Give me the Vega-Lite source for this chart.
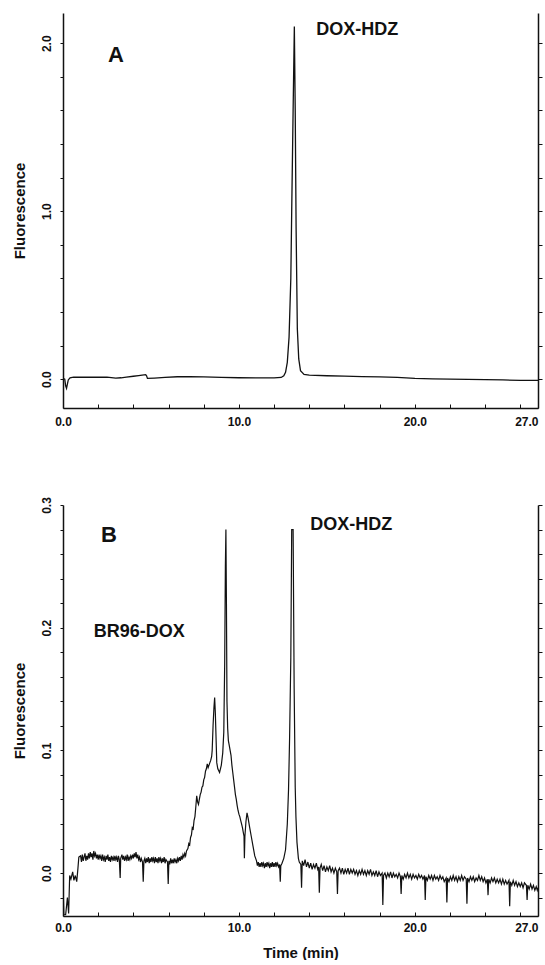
{
  "$schema": "https://vega.github.io/schema/vega-lite/v6.json",
  "background": "white",
  "padding": {"left": 11, "top": 13, "right": 0, "bottom": 0},
  "datasets": {
    "A": [
      {"t":0,"v":0.005},{"t":0.1,"v":0.0},{"t":0.15,"v":-0.04},{"t":0.2,"v":-0.055},{"t":0.25,"v":-0.03},{"t":0.3,"v":-0.005},{"t":0.4,"v":0.008},{"t":0.6,"v":0.012},{"t":1.0,"v":0.011},{"t":1.5,"v":0.012},{"t":2.0,"v":0.011},{"t":2.5,"v":0.012},{"t":3.0,"v":0.006},{"t":3.3,"v":0.008},{"t":3.6,"v":0.012},{"t":4.0,"v":0.017},{"t":4.3,"v":0.021},{"t":4.5,"v":0.024},{"t":4.7,"v":0.027},{"t":4.75,"v":0.02},{"t":4.8,"v":0.004},{"t":5.2,"v":0.006},{"t":5.8,"v":0.01},{"t":6.5,"v":0.014},{"t":7.2,"v":0.015},{"t":8.0,"v":0.013},{"t":9.0,"v":0.01},{"t":10.0,"v":0.008},{"t":11.0,"v":0.007},{"t":12.0,"v":0.007},{"t":12.4,"v":0.01},{"t":12.55,"v":0.02},{"t":12.65,"v":0.04},{"t":12.75,"v":0.1},{"t":12.85,"v":0.25},{"t":12.95,"v":0.6},{"t":13.0,"v":1.0},{"t":13.08,"v":1.6},{"t":13.15,"v":2.1},{"t":13.2,"v":1.6},{"t":13.25,"v":0.9},{"t":13.32,"v":0.3},{"t":13.4,"v":0.12},{"t":13.5,"v":0.05},{"t":13.7,"v":0.028},{"t":14.0,"v":0.024},{"t":15.0,"v":0.02},{"t":16.0,"v":0.018},{"t":17.0,"v":0.015},{"t":18.0,"v":0.013},{"t":19.0,"v":0.01},{"t":20.0,"v":0.004},{"t":21.0,"v":0.001},{"t":22.0,"v":0.0},{"t":23.0,"v":-0.002},{"t":24.0,"v":-0.003},{"t":25.0,"v":-0.005},{"t":26.0,"v":-0.007},{"t":27.0,"v":-0.008}
    ],
    "B": [
      {"t":0.0,"v":-0.01},{"t":0.05,"v":-0.034},{"t":0.15,"v":-0.034},{"t":0.25,"v":-0.02},{"t":0.32,"v":-0.033},{"t":0.38,"v":-0.002},{"t":0.45,"v":-0.005},{"t":0.55,"v":0.001},{"t":0.62,"v":-0.006},{"t":0.7,"v":-0.002},{"t":0.78,"v":-0.007},{"t":0.85,"v":0.004},{"t":0.9,"v":0.013},
      {"t":1.0,"v":0.014},{"t":1.05,"v":0.009},{"t":1.1,"v":0.015},{"t":1.15,"v":0.010},{"t":1.2,"v":0.013},{"t":1.25,"v":0.016},{"t":1.3,"v":0.010},{"t":1.35,"v":0.014},{"t":1.4,"v":0.011},{"t":1.45,"v":0.016},{"t":1.5,"v":0.012},{"t":1.55,"v":0.017},{"t":1.6,"v":0.013},{"t":1.65,"v":0.016},{"t":1.7,"v":0.011},{"t":1.75,"v":0.018},{"t":1.8,"v":0.014},{"t":1.85,"v":0.016},{"t":1.9,"v":0.012},{"t":1.95,"v":0.015},{"t":2.0,"v":0.011},{"t":2.05,"v":0.015},{"t":2.1,"v":0.012},{"t":2.15,"v":0.014},{"t":2.2,"v":0.010},{"t":2.25,"v":0.015},{"t":2.3,"v":0.011},{"t":2.35,"v":0.013},{"t":2.4,"v":0.009},{"t":2.45,"v":0.014},{"t":2.5,"v":0.011},{"t":2.55,"v":0.015},{"t":2.6,"v":0.010},{"t":2.65,"v":0.013},{"t":2.7,"v":0.009},{"t":2.75,"v":0.014},{"t":2.8,"v":0.011},{"t":2.85,"v":0.013},{"t":2.9,"v":0.010},{"t":2.95,"v":0.014},{"t":3.0,"v":0.011},{"t":3.05,"v":0.013},{"t":3.1,"v":0.009},{"t":3.15,"v":0.014},{"t":3.2,"v":0.011},{"t":3.25,"v":-0.004},{"t":3.28,"v":0.012},{"t":3.35,"v":0.015},{"t":3.4,"v":0.011},{"t":3.45,"v":0.014},{"t":3.5,"v":0.010},{"t":3.55,"v":0.013},{"t":3.6,"v":0.011},{"t":3.65,"v":0.015},{"t":3.7,"v":0.010},{"t":3.75,"v":0.013},{"t":3.8,"v":0.011},{"t":3.85,"v":0.014},{"t":3.9,"v":0.012},{"t":3.95,"v":0.015},{"t":4.0,"v":0.012},{"t":4.05,"v":0.016},{"t":4.1,"v":0.013},{"t":4.15,"v":0.017},{"t":4.2,"v":0.012},{"t":4.25,"v":0.015},{"t":4.3,"v":0.011},{"t":4.35,"v":0.013},{"t":4.4,"v":0.009},{"t":4.45,"v":0.012},{"t":4.52,"v":0.009},{"t":4.56,"v":-0.007},{"t":4.6,"v":0.010},{"t":4.65,"v":0.012},{"t":4.7,"v":0.008},{"t":4.75,"v":0.012},{"t":4.8,"v":0.009},{"t":4.85,"v":0.013},{"t":4.9,"v":0.008},{"t":4.95,"v":0.012},{"t":5.0,"v":0.009},{"t":5.05,"v":0.013},{"t":5.1,"v":0.010},{"t":5.15,"v":0.012},{"t":5.2,"v":0.008},{"t":5.25,"v":0.013},{"t":5.3,"v":0.009},{"t":5.35,"v":0.012},{"t":5.4,"v":0.008},{"t":5.45,"v":0.013},{"t":5.5,"v":0.010},{"t":5.55,"v":0.012},{"t":5.6,"v":0.008},{"t":5.65,"v":0.012},{"t":5.7,"v":0.009},{"t":5.75,"v":0.013},{"t":5.8,"v":0.008},{"t":5.85,"v":0.011},{"t":5.94,"v":0.009},{"t":5.98,"v":-0.009},{"t":6.02,"v":0.010},{"t":6.07,"v":0.007},{"t":6.12,"v":0.012},{"t":6.17,"v":0.008},{"t":6.22,"v":0.011},{"t":6.27,"v":0.008},{"t":6.32,"v":0.012},{"t":6.37,"v":0.009},{"t":6.42,"v":0.011},{"t":6.47,"v":0.008},{"t":6.52,"v":0.012},{"t":6.57,"v":0.010},{"t":6.62,"v":0.013},{"t":6.67,"v":0.010},{"t":6.72,"v":0.014},{"t":6.77,"v":0.011},{"t":6.82,"v":0.015},{"t":6.87,"v":0.013},{"t":6.92,"v":0.016},{"t":6.97,"v":0.014},{"t":7.02,"v":0.018},
      {"t":7.1,"v":0.02},{"t":7.15,"v":0.024},{"t":7.2,"v":0.023},{"t":7.25,"v":0.029},{"t":7.3,"v":0.031},{"t":7.35,"v":0.037},{"t":7.4,"v":0.036},{"t":7.45,"v":0.043},{"t":7.5,"v":0.046},{"t":7.55,"v":0.054},{"t":7.6,"v":0.063},{"t":7.65,"v":0.058},{"t":7.7,"v":0.056},{"t":7.75,"v":0.06},{"t":7.8,"v":0.064},{"t":7.85,"v":0.066},{"t":7.9,"v":0.07},{"t":7.95,"v":0.071},{"t":8.0,"v":0.076},{"t":8.05,"v":0.078},{"t":8.1,"v":0.083},{"t":8.15,"v":0.085},{"t":8.2,"v":0.089},{"t":8.25,"v":0.086},{"t":8.3,"v":0.088},{"t":8.35,"v":0.09},{"t":8.4,"v":0.092},{"t":8.45,"v":0.095},{"t":8.48,"v":0.1},{"t":8.53,"v":0.12},{"t":8.58,"v":0.135},{"t":8.62,"v":0.143},{"t":8.66,"v":0.13},{"t":8.7,"v":0.11},{"t":8.74,"v":0.09},{"t":8.8,"v":0.085},{"t":8.9,"v":0.082},{"t":9.0,"v":0.088},{"t":9.08,"v":0.098},{"t":9.14,"v":0.115},{"t":9.19,"v":0.17},{"t":9.23,"v":0.25},{"t":9.26,"v":0.28},{"t":9.29,"v":0.22},{"t":9.32,"v":0.14},{"t":9.36,"v":0.118},{"t":9.4,"v":0.108},{"t":9.45,"v":0.104},{"t":9.5,"v":0.1},{"t":9.55,"v":0.096},{"t":9.6,"v":0.088},{"t":9.65,"v":0.082},{"t":9.7,"v":0.076},{"t":9.75,"v":0.07},{"t":9.8,"v":0.064},{"t":9.85,"v":0.06},{"t":9.9,"v":0.055},{"t":9.95,"v":0.051},{"t":10.0,"v":0.048},{"t":10.05,"v":0.046},{"t":10.1,"v":0.043},{"t":10.15,"v":0.04},{"t":10.2,"v":0.037},{"t":10.25,"v":0.033},{"t":10.29,"v":0.03},{"t":10.31,"v":0.012},{"t":10.34,"v":0.03},{"t":10.4,"v":0.042},{"t":10.46,"v":0.049},{"t":10.52,"v":0.045},{"t":10.6,"v":0.038},{"t":10.7,"v":0.03},{"t":10.8,"v":0.022},{"t":10.9,"v":0.014},
      {"t":11.0,"v":0.010},{"t":11.05,"v":0.006},{"t":11.1,"v":0.009},{"t":11.15,"v":0.005},{"t":11.2,"v":0.008},{"t":11.25,"v":0.005},{"t":11.3,"v":0.009},{"t":11.35,"v":0.006},{"t":11.4,"v":0.008},{"t":11.45,"v":0.004},{"t":11.5,"v":0.008},{"t":11.55,"v":0.005},{"t":11.6,"v":0.009},{"t":11.65,"v":0.006},{"t":11.7,"v":0.008},{"t":11.75,"v":0.004},{"t":11.8,"v":0.008},{"t":11.85,"v":0.005},{"t":11.9,"v":0.009},{"t":11.95,"v":0.005},{"t":12.0,"v":0.008},{"t":12.05,"v":0.005},{"t":12.1,"v":0.009},{"t":12.15,"v":0.006},{"t":12.2,"v":0.008},{"t":12.25,"v":0.005},{"t":12.31,"v":0.007},{"t":12.35,"v":-0.007},{"t":12.38,"v":0.006},{"t":12.45,"v":0.008},{"t":12.55,"v":0.012},{"t":12.65,"v":0.019},{"t":12.75,"v":0.04},{"t":12.82,"v":0.068},{"t":12.88,"v":0.11},{"t":12.95,"v":0.176},{"t":13.0,"v":0.28},{"t":13.08,"v":0.28},{"t":13.14,"v":0.15},{"t":13.2,"v":0.07},{"t":13.24,"v":0.046},{"t":13.3,"v":0.025},{"t":13.38,"v":0.012},{"t":13.43,"v":0.009},{"t":13.52,"v":0.007},{"t":13.56,"v":-0.012},
      {"t":13.6,"v":0.010},{"t":13.68,"v":0.006},{"t":13.76,"v":0.011},{"t":13.84,"v":0.005},{"t":13.92,"v":0.009},{"t":14.0,"v":0.004},{"t":14.08,"v":0.008},{"t":14.16,"v":0.003},{"t":14.24,"v":0.007},{"t":14.32,"v":0.004},{"t":14.4,"v":0.008},{"t":14.48,"v":0.003},{"t":14.53,"v":0.005},{"t":14.57,"v":-0.016},{"t":14.61,"v":0.004},{"t":14.68,"v":0.007},{"t":14.76,"v":0.002},{"t":14.84,"v":0.006},{"t":14.92,"v":0.001},{"t":15.0,"v":0.005},{"t":15.08,"v":0.002},{"t":15.16,"v":0.006},{"t":15.24,"v":0.001},{"t":15.32,"v":0.004},{"t":15.4,"v":0.0},{"t":15.48,"v":0.004},{"t":15.56,"v":0.001},{"t":15.6,"v":-0.017},{"t":15.64,"v":0.002},{"t":15.72,"v":0.004},{"t":15.8,"v":0.0},{"t":15.88,"v":0.004},{"t":15.96,"v":-0.001},{"t":16.04,"v":0.003},{"t":16.12,"v":0.0},{"t":16.2,"v":0.004},{"t":16.28,"v":-0.001},{"t":16.36,"v":0.003},{"t":16.44,"v":0.0},{"t":16.52,"v":0.003},{"t":16.6,"v":-0.001},{"t":16.68,"v":0.002},{"t":16.76,"v":-0.002},{"t":16.84,"v":0.002},{"t":16.92,"v":-0.001},{"t":17.0,"v":0.003},{"t":17.08,"v":-0.001},{"t":17.16,"v":0.002},{"t":17.24,"v":-0.002},{"t":17.32,"v":0.002},{"t":17.4,"v":-0.001},{"t":17.48,"v":0.003},{"t":17.56,"v":-0.002},{"t":17.64,"v":0.001},{"t":17.72,"v":-0.002},{"t":17.8,"v":0.002},{"t":17.88,"v":-0.003},{"t":17.96,"v":0.001},{"t":18.04,"v":-0.002},{"t":18.14,"v":0.0},{"t":18.18,"v":-0.026},{"t":18.22,"v":-0.002},{"t":18.3,"v":0.0},{"t":18.38,"v":-0.004},{"t":18.46,"v":0.0},{"t":18.54,"v":-0.003},{"t":18.62,"v":0.001},{"t":18.7,"v":-0.004},{"t":18.78,"v":0.0},{"t":18.86,"v":-0.003},{"t":18.94,"v":-0.001},{"t":19.02,"v":-0.004},{"t":19.1,"v":0.0},{"t":19.18,"v":-0.003},{"t":19.22,"v":-0.017},{"t":19.26,"v":-0.002},{"t":19.34,"v":-0.005},{"t":19.42,"v":-0.001},{"t":19.5,"v":-0.004},{"t":19.58,"v":0.0},{"t":19.66,"v":-0.004},{"t":19.74,"v":-0.001},{"t":19.82,"v":-0.005},{"t":19.9,"v":-0.001},{"t":19.98,"v":-0.004},{"t":20.06,"v":-0.002},{"t":20.14,"v":-0.005},{"t":20.22,"v":-0.001},{"t":20.3,"v":-0.004},{"t":20.38,"v":-0.002},{"t":20.46,"v":-0.005},{"t":20.55,"v":-0.002},{"t":20.59,"v":-0.022},{"t":20.63,"v":-0.003},{"t":20.71,"v":-0.006},{"t":20.79,"v":-0.002},{"t":20.87,"v":-0.005},{"t":20.95,"v":-0.002},{"t":21.03,"v":-0.006},{"t":21.11,"v":-0.002},{"t":21.19,"v":-0.005},{"t":21.27,"v":-0.003},{"t":21.35,"v":-0.006},{"t":21.43,"v":-0.002},{"t":21.51,"v":-0.005},{"t":21.59,"v":-0.003},{"t":21.67,"v":-0.007},{"t":21.78,"v":-0.004},{"t":21.82,"v":-0.024},{"t":21.86,"v":-0.004},{"t":21.94,"v":-0.007},{"t":22.02,"v":-0.003},{"t":22.1,"v":-0.006},{"t":22.18,"v":-0.002},{"t":22.26,"v":-0.006},{"t":22.34,"v":-0.003},{"t":22.42,"v":-0.007},{"t":22.5,"v":-0.003},{"t":22.58,"v":-0.006},{"t":22.66,"v":-0.002},{"t":22.74,"v":-0.006},{"t":22.82,"v":-0.003},{"t":22.92,"v":-0.005},{"t":22.96,"v":-0.025},{"t":23.0,"v":-0.004},{"t":23.08,"v":-0.007},{"t":23.16,"v":-0.003},{"t":23.24,"v":-0.006},{"t":23.32,"v":-0.003},{"t":23.4,"v":-0.007},{"t":23.48,"v":-0.004},{"t":23.56,"v":-0.006},{"t":23.64,"v":-0.002},{"t":23.72,"v":-0.006},{"t":23.8,"v":-0.003},{"t":23.88,"v":-0.007},{"t":23.96,"v":-0.004},{"t":24.04,"v":-0.008},{"t":24.12,"v":-0.005},{"t":24.16,"v":-0.018},{"t":24.2,"v":-0.005},{"t":24.28,"v":-0.008},{"t":24.36,"v":-0.004},{"t":24.44,"v":-0.007},{"t":24.52,"v":-0.004},{"t":24.6,"v":-0.008},{"t":24.68,"v":-0.005},{"t":24.76,"v":-0.008},{"t":24.84,"v":-0.005},{"t":24.92,"v":-0.009},{"t":25.0,"v":-0.005},{"t":25.08,"v":-0.009},{"t":25.16,"v":-0.006},{"t":25.24,"v":-0.009},{"t":25.35,"v":-0.006},{"t":25.39,"v":-0.027},{"t":25.43,"v":-0.007},{"t":25.51,"v":-0.01},{"t":25.59,"v":-0.006},{"t":25.67,"v":-0.01},{"t":25.75,"v":-0.007},{"t":25.83,"v":-0.011},{"t":25.91,"v":-0.008},{"t":25.99,"v":-0.011},{"t":26.07,"v":-0.008},{"t":26.15,"v":-0.012},{"t":26.23,"v":-0.008},{"t":26.34,"v":-0.01},{"t":26.38,"v":-0.022},{"t":26.42,"v":-0.01},{"t":26.5,"v":-0.013},{"t":26.58,"v":-0.009},{"t":26.66,"v":-0.013},{"t":26.74,"v":-0.01},{"t":26.82,"v":-0.014},{"t":26.9,"v":-0.011},{"t":26.96,"v":-0.014},{"t":27.0,"v":-0.012}
    ],
    "letterA": [{"t": 2.56, "v": 1.89, "label": "A"}],
    "namesA": [{"t": 14.4, "v": 2.05, "label": "DOX-HDZ"}],
    "letterB": [{"t": 2.16, "v": 0.2698, "label": "B"}],
    "namesB": [{"t": 1.75, "v": 0.1924, "label": "BR96-DOX"}, {"t": 14.05, "v": 0.2796, "label": "DOX-HDZ"}]
  },
  "spacing": 97,
  "bounds": "flush",
  "vconcat": [
    {
      "width": 475,
      "height": 395,
      "layer": [
        {
          "data": {"name": "A"},
          "mark": {"type": "line", "color": "#111111", "strokeWidth": 1.3, "clip": true},
          "encoding": {
            "x": {"field": "t", "type": "quantitative",
              "scale": {"domain": [0, 27], "nice": false, "zero": false},
              "axis": {"values": [0,2,4,6,8,10,12,14,16,18,20,22,24,26,27],
                "labelExpr": "indexof([0,10,20,27], datum.value) >= 0 ? format(datum.value, '.1f') : ''",
                "labelAlign": {"condition": {"test": "datum.value == 27", "value": "right"}, "value": "center"},
                "title": null, "tickSize": -4, "labelPadding": 12, "labelOverlap": false, "labelFlush": false,
                "domainColor": "#111111", "domainWidth": 1.5, "tickColor": "#111111", "tickWidth": 1,
                "labelFont": "Liberation Sans", "labelFontWeight": "bold", "labelFontSize": 12, "labelColor": "#111111"}},
            "y": {"field": "v", "type": "quantitative",
              "scale": {"domain": [-0.172, 2.18], "nice": false, "zero": false},
              "axis": {"orient": "left", "values": [0,0.2,0.4,0.6,0.8,1,1.2,1.4,1.6,1.8,2],
                "labelExpr": "abs(datum.value - round(datum.value)) < 0.001 ? format(datum.value, '.1f') : ''",
                "title": "Fluorescence", "titleFont": "Liberation Sans", "titleFontWeight": "bold", "titleFontSize": 15, "titleColor": "#111111", "titlePadding": 13,
                "labelAngle": 270, "tickSize": 3, "labelPadding": 7, "labelOverlap": false, "labelFlush": false,
                "domainColor": "#111111", "domainWidth": 1.5, "tickColor": "#111111", "tickWidth": 1,
                "labelFont": "Liberation Sans", "labelFontWeight": "bold", "labelFontSize": 12, "labelColor": "#111111"}}
          }
        },
        {
          "data": {"name": "A"},
          "mark": {"type": "line", "opacity": 0},
          "encoding": {
            "x": {"field": "t", "type": "quantitative", "axis": null},
            "y": {"field": "v", "type": "quantitative",
              "axis": {"orient": "right", "values": [0,0.2,0.4,0.6,0.8,1,1.2,1.4,1.6,1.8,2], "labels": false, "title": null,
                "tickSize": 4, "domainColor": "#111111", "domainWidth": 1.5, "tickColor": "#111111", "tickWidth": 1}}
          }
        },
        {
          "data": {"name": "letterA"},
          "mark": {"type": "text", "align": "left", "baseline": "alphabetic", "font": "Liberation Sans", "fontWeight": "bold", "fontSize": 22, "color": "#111111"},
          "encoding": {
            "x": {"field": "t", "type": "quantitative", "axis": null},
            "y": {"field": "v", "type": "quantitative", "axis": null},
            "text": {"field": "label"}
          }
        },
        {
          "data": {"name": "namesA"},
          "mark": {"type": "text", "align": "left", "baseline": "alphabetic", "font": "Liberation Sans", "fontWeight": "bold", "fontSize": 18, "color": "#111111"},
          "encoding": {
            "x": {"field": "t", "type": "quantitative", "axis": null},
            "y": {"field": "v", "type": "quantitative", "axis": null},
            "text": {"field": "label"}
          }
        }
      ],
      "resolve": {"axis": {"x": "independent", "y": "independent"}}
    },
    {
      "width": 475,
      "height": 411,
      "layer": [
        {
          "data": {"name": "B"},
          "mark": {"type": "line", "color": "#111111", "strokeWidth": 1.2, "clip": true},
          "encoding": {
            "x": {"field": "t", "type": "quantitative",
              "scale": {"domain": [0, 27], "nice": false, "zero": false},
              "axis": {"values": [0,2,4,6,8,10,12,14,16,18,20,22,24,26,27],
                "labelExpr": "indexof([0,10,20,27], datum.value) >= 0 ? format(datum.value, '.1f') : ''",
                "labelAlign": {"condition": {"test": "datum.value == 27", "value": "right"}, "value": "center"},
                "title": "Time (min)", "titleFont": "Liberation Sans", "titleFontWeight": "bold", "titleFontSize": 15, "titleColor": "#111111", "titlePadding": 12,
                "tickSize": -4, "labelPadding": 10, "labelOverlap": false, "labelFlush": false,
                "domainColor": "#111111", "domainWidth": 1.5, "tickColor": "#111111", "tickWidth": 1,
                "labelFont": "Liberation Sans", "labelFontWeight": "bold", "labelFontSize": 12, "labelColor": "#111111"}},
            "y": {"field": "v", "type": "quantitative",
              "scale": {"domain": [-0.035, 0.3], "nice": false, "zero": false},
              "axis": {"orient": "left", "values": [-0.02,0,0.02,0.04,0.06,0.08,0.1,0.12,0.14,0.16,0.18,0.2,0.22,0.24,0.26,0.28,0.3],
                "labelExpr": "abs(datum.value*10 - round(datum.value*10)) < 0.001 ? format(datum.value, '.1f') : ''",
                "title": "Fluorescence", "titleFont": "Liberation Sans", "titleFontWeight": "bold", "titleFontSize": 15, "titleColor": "#111111", "titlePadding": 13,
                "labelAngle": 270, "tickSize": 3, "labelPadding": 7, "labelOverlap": false, "labelFlush": false,
                "domainColor": "#111111", "domainWidth": 1.5, "tickColor": "#111111", "tickWidth": 1,
                "labelFont": "Liberation Sans", "labelFontWeight": "bold", "labelFontSize": 12, "labelColor": "#111111"}}
          }
        },
        {
          "data": {"name": "B"},
          "mark": {"type": "line", "opacity": 0},
          "encoding": {
            "x": {"field": "t", "type": "quantitative", "axis": null},
            "y": {"field": "v", "type": "quantitative",
              "axis": {"orient": "right", "values": [-0.02,0,0.02,0.04,0.06,0.08,0.1,0.12,0.14,0.16,0.18,0.2,0.22,0.24,0.26,0.28,0.3], "labels": false, "title": null,
                "tickSize": 4, "domainColor": "#111111", "domainWidth": 1.5, "tickColor": "#111111", "tickWidth": 1}}
          }
        },
        {
          "data": {"name": "letterB"},
          "mark": {"type": "text", "align": "left", "baseline": "alphabetic", "font": "Liberation Sans", "fontWeight": "bold", "fontSize": 22, "color": "#111111"},
          "encoding": {
            "x": {"field": "t", "type": "quantitative", "axis": null},
            "y": {"field": "v", "type": "quantitative", "axis": null},
            "text": {"field": "label"}
          }
        },
        {
          "data": {"name": "namesB"},
          "mark": {"type": "text", "align": "left", "baseline": "alphabetic", "font": "Liberation Sans", "fontWeight": "bold", "fontSize": 18, "color": "#111111"},
          "encoding": {
            "x": {"field": "t", "type": "quantitative", "axis": null},
            "y": {"field": "v", "type": "quantitative", "axis": null},
            "text": {"field": "label"}
          }
        }
      ],
      "resolve": {"axis": {"x": "independent", "y": "independent"}}
    }
  ],
  "config": {"view": {"stroke": null}, "axis": {"grid": false}}
}
